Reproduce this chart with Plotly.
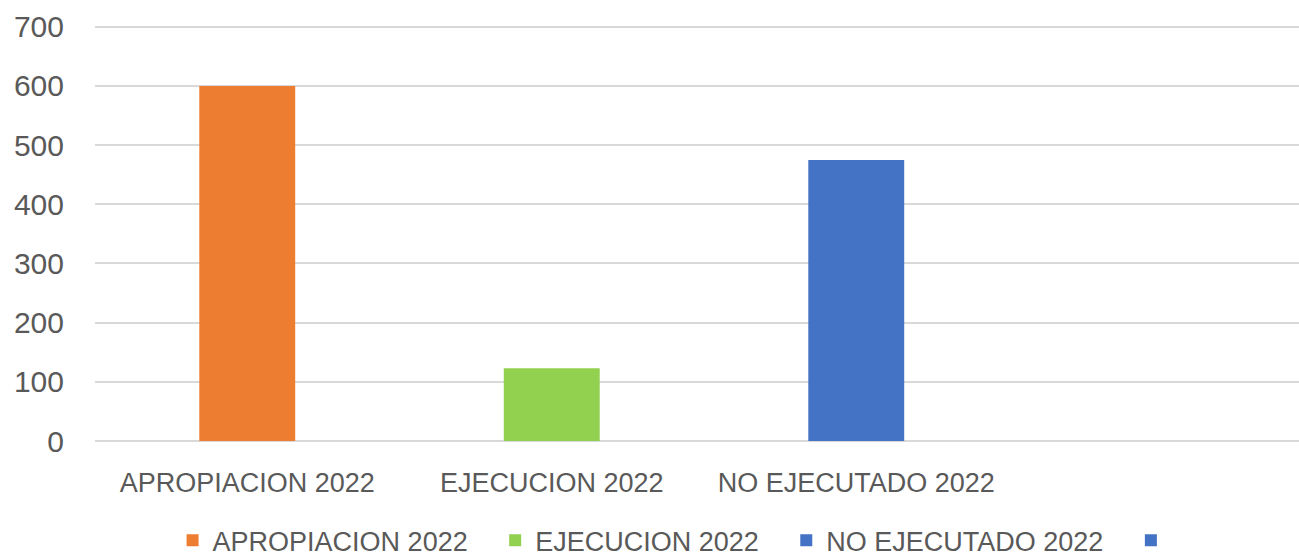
import plotly.graph_objects as go

categories = ["APROPIACION 2022", "EJECUCION 2022", "NO EJECUTADO 2022", " "]
values = [600, 123, 475, None]
series_names = ["APROPIACION 2022", "EJECUCION 2022", "NO EJECUTADO 2022", " "]
colors = ["#ED7D31", "#92D050", "#4472C4", "#4472C4"]
y_ticks = [0, 100, 200, 300, 400, 500, 600, 700]

PAD = "\u00a0" * 3

fig = go.Figure()
for i, name in enumerate(series_names):
    label = name + PAD if name.strip() else name
    fig.add_trace(go.Bar(
        x=[categories[i]],
        y=[values[i]],
        name=label,
        marker=dict(color=colors[i], line=dict(width=0)),
        width=0.315,
    ))

font_family = "Liberation Sans, Arial, sans-serif"
text_color = "#595959"

fig.update_layout(
    width=1299,
    height=558,
    margin=dict(l=95, r=0, t=25, b=117, autoexpand=False),
    paper_bgcolor="white",
    plot_bgcolor="white",
    barmode="overlay",
    showlegend=True,
    legend=dict(
        orientation="h",
        xref="container",
        x=0.522,
        xanchor="center",
        yref="container",
        y=0.031,
        yanchor="middle",
        font=dict(family=font_family, size=27, color=text_color),
        traceorder="normal",
    ),
    xaxis=dict(
        type="category",
        categoryorder="array",
        categoryarray=categories,
        range=[-0.5, 3.454],
        showgrid=False,
        showline=False,
        zeroline=False,
        ticks="",
        tickfont=dict(family=font_family, size=27, color=text_color),
        ticklabelstandoff=23,
    ),
    yaxis=dict(
        range=[0, 703],
        tickvals=y_ticks,
        showgrid=True,
        gridcolor="#D9D9D9",
        gridwidth=1.5,
        zeroline=True,
        zerolinecolor="#D9D9D9",
        zerolinewidth=1.5,
        showline=False,
        ticks="",
        tickfont=dict(family=font_family, size=30, color=text_color),
        ticklabelstandoff=30,
    ),
)

fig.write_html(
    "out.html",
    config={"displayModeBar": False},
    post_script="document.body.style.margin='0';document.body.style.overflow='hidden';",
)
